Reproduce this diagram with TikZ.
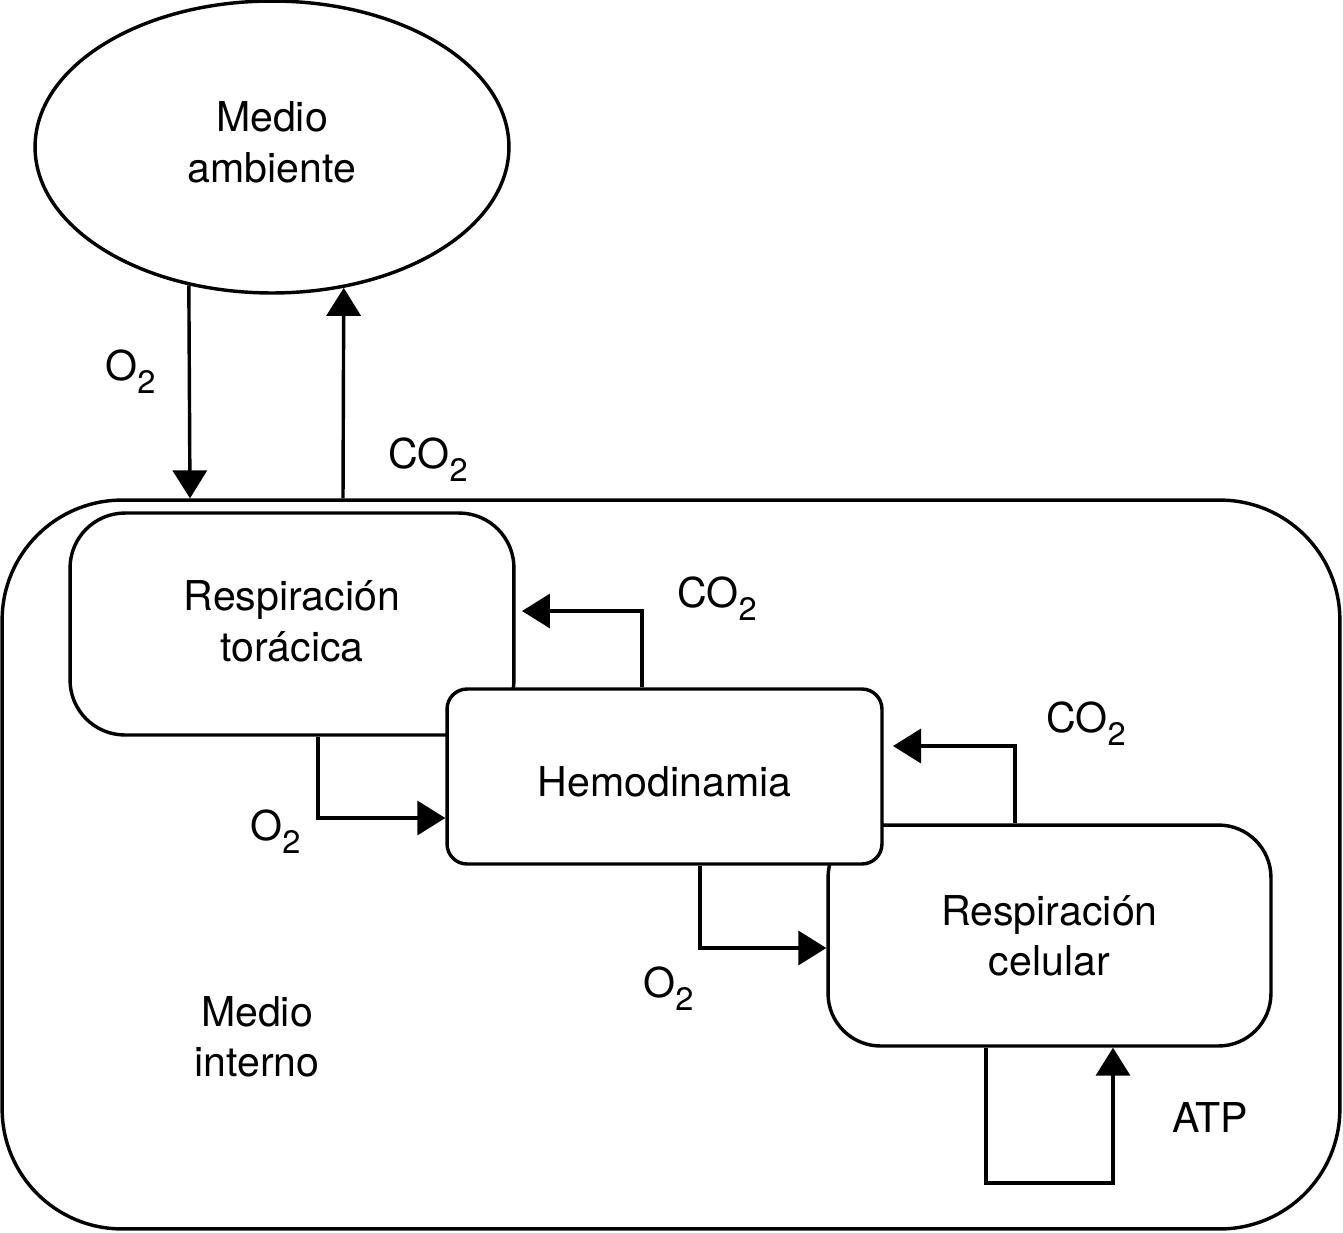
\documentclass[tikz,border=0pt]{standalone}
\usepackage{fontspec}
\setmainfont{TeX Gyre Heros}
\usetikzlibrary{shapes.geometric,arrows.meta,calc}
\newcommand{\mysub}[1]{\raisebox{-7.6pt}{\fontsize{18.5}{18.5}\selectfont #1}}
\begin{document}
\begin{tikzpicture}[x=0.02cm,y=-0.02cm,
  lw/.style={line width=1.95pt},
  txt/.style={font=\fontsize{23.4}{28.5}\selectfont},
  box/.style={draw,lw,fill=white,align=center,inner sep=0pt,txt},
  arr/.style={lw,-{Triangle[length=0.56cm,width=0.68cm]}},
  lbl/.style={inner sep=0pt,anchor=base west,txt}]
\useasboundingbox (0,0) rectangle (1343,1232);
% environment
\node[box,ellipse,minimum width=9.48cm,minimum height=5.84cm,text depth=0.2cm] (ell) at (272,147) {Medio\\ambiente};
% internal medium
\node[box,rounded corners=2.4cm,minimum width=26.76cm,minimum height=14.58cm] (outer) at (671,864.5) {};
\node[align=center,inner sep=0pt,txt] (mi) at (257,1037) {Medio\\interno};
% boxes
\node[box,rounded corners=1.1cm,minimum width=8.88cm,minimum height=4.44cm,text depth=0.12cm] (rt) at (292,624) {Respiración\\torácica};
\node[box,rounded corners=1.05cm,minimum width=8.86cm,minimum height=4.42cm] (rc) at (1049.5,935.5) {Respiración\\celular};
\node[box,rounded corners=0.4cm,minimum width=8.7cm,minimum height=3.5cm,text height=23.5pt] (hemo) at (664.5,776.5) {Hemodinamia};
% free ends
\coordinate (t1) at (522,611);
\coordinate (t2) at (893,746);
\coordinate (c3) at (1113,1183);
% connectors
\draw[arr] (ell.239.1) -- (190,0 |- outer.north);
\draw[arr] (343,0 |- outer.north) -- (ell.297);
\draw[arr] (642,0 |- hemo.north) |- (t1);
\draw[arr] (318,0 |- rt.south) |- (hemo.west |- 0,818);
\draw[arr] (1015,0 |- rc.north) |- (t2);
\draw[arr] (700,0 |- hemo.south) |- (rc.west |- 0,948);
\draw[arr] (986,0 |- rc.south) |- (c3) -- (c3 |- rc.south);
% labels
\node[lbl] (l1) at (105,380) {O\mysub{2}};
\node[lbl] (l2) at (388,468) {CO\mysub{2}};
\node[lbl] (l3) at (677,607) {CO\mysub{2}};
\node[lbl] (l4) at (250,840) {O\mysub{2}};
\node[lbl] (l5) at (1046,732) {CO\mysub{2}};
\node[lbl] (l6) at (643,997) {O\mysub{2}};
\node[lbl] (l7) at (1172,1132) {ATP};
\end{tikzpicture}
\end{document}
